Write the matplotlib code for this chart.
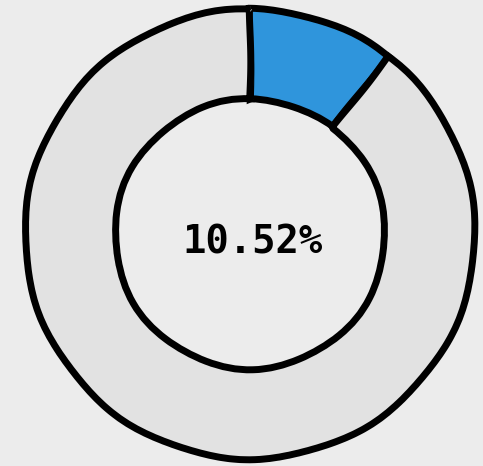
import matplotlib.pyplot as plt

# share shown in the ring
labels = ["Done", "Remaining"]
values = [10.52, 89.48]
colors = ["#2f95dc", "#e2e2e2"]

plt.xkcd(scale=0.8, length=120, randomness=1)

fig = plt.figure(figsize=(4.83, 4.66), dpi=100)
fig.patch.set_facecolor("#ececec")

ax = fig.add_axes([25 / 483, 7 / 466, 450 / 483, 450 / 466])
ax.pie(values, colors=colors, startangle=90, counterclock=False,
       wedgeprops=dict(width=0.4, edgecolor="black", linewidth=5))
ax.set_xlim(-1.0, 1.0)
ax.set_ylim(-1.0, 1.0)

ax.text(0.01, -0.04, f"{values[0]:.2f}%", ha="center", va="center",
        fontsize=28, fontweight="bold", color="black",
        family="DejaVu Sans Mono", path_effects=[])

fig.savefig("out.png", dpi=100, facecolor=fig.get_facecolor())
